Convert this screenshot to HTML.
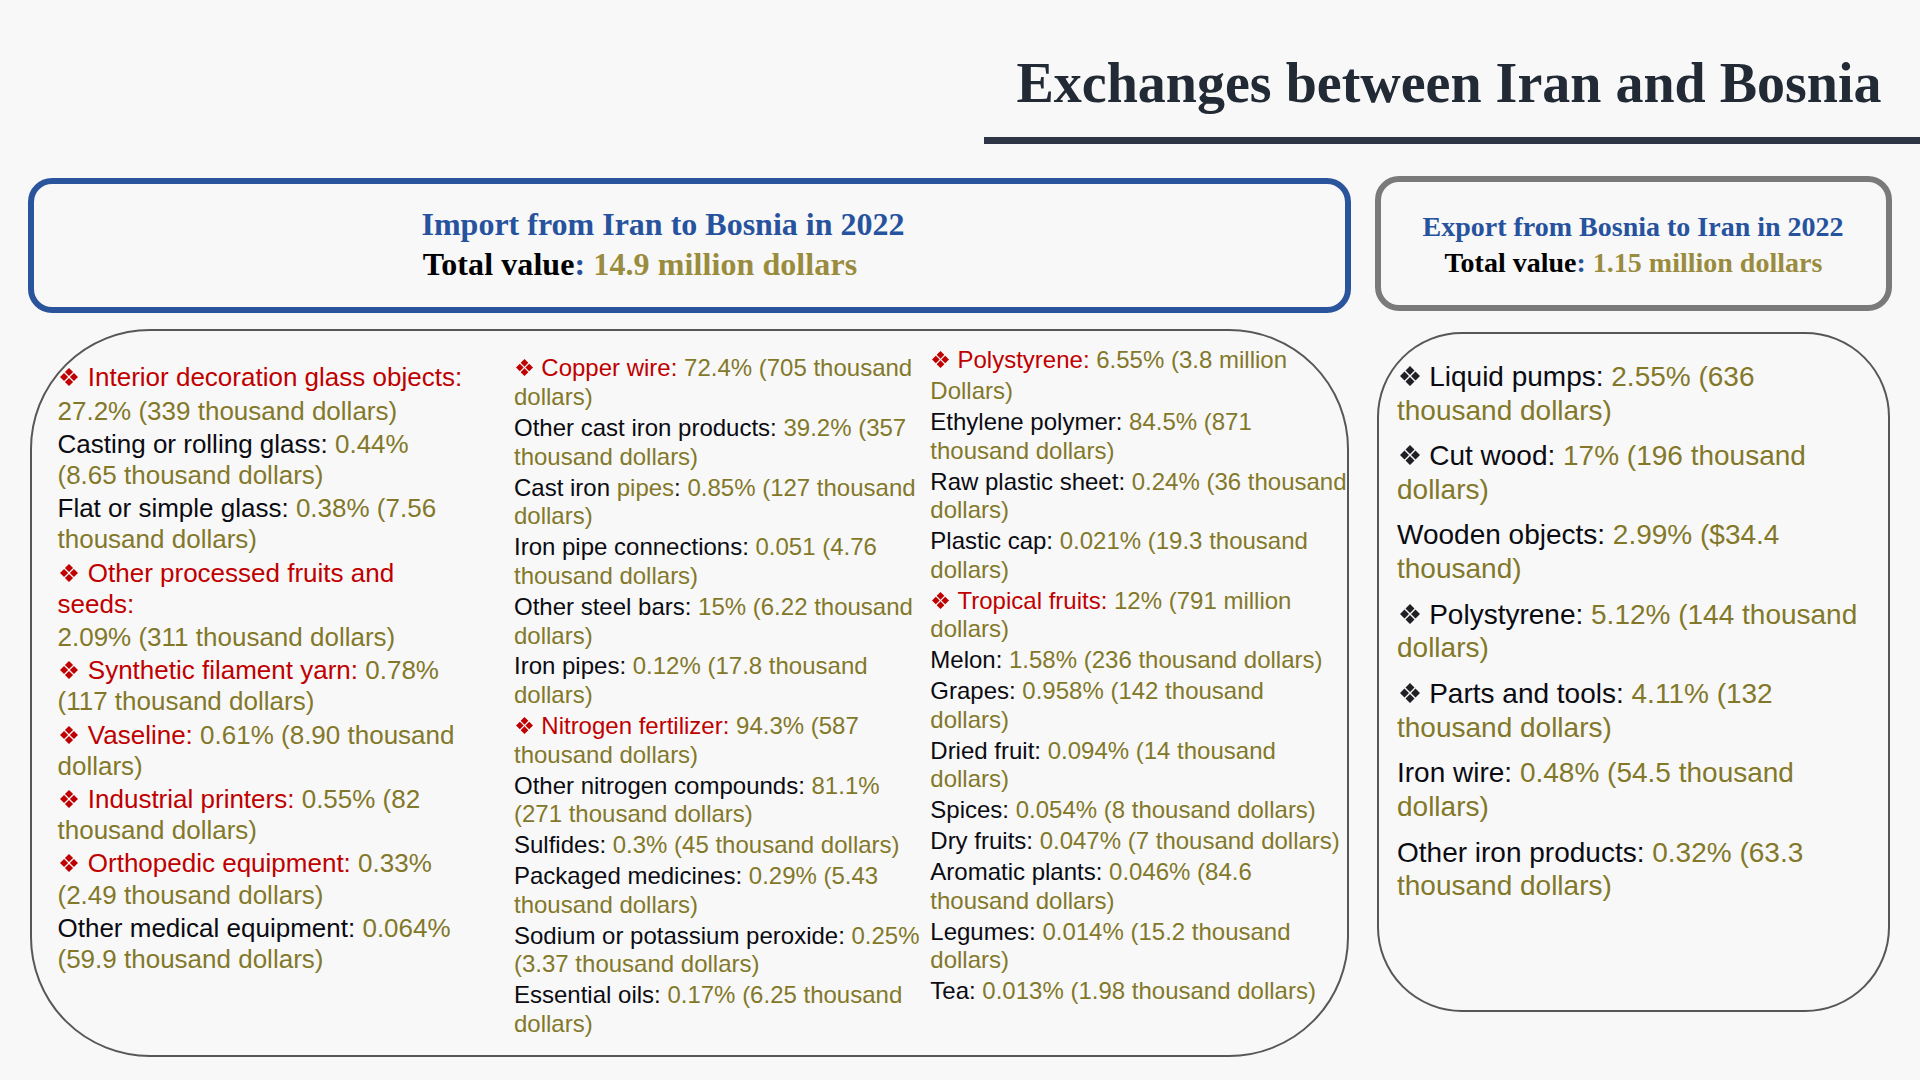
<!DOCTYPE html>
<html><head><meta charset="utf-8"><title>Exchanges between Iran and Bosnia</title>
<style>
html,body{margin:0;padding:0}
body{width:1920px;height:1080px;position:relative;overflow:hidden;background:#f8f8f8;font-family:"Liberation Sans", sans-serif}
.box{position:absolute;box-sizing:border-box}
.ln{position:absolute;white-space:pre;line-height:0;height:0;font-family:"Liberation Sans", sans-serif}
.f1{font-size:26px} .f2{font-size:24px} .f3{font-size:24px} .f4{font-size:28px}
.sl{position:absolute;white-space:pre;line-height:0;height:0;font-family:"Liberation Serif", serif;font-weight:bold}
.r{color:#c00000} .g{color:#83782a} .k{color:#0b0b12} .k0{color:#000} .b{color:#27539e} .gb{color:#9a8c3e}
</style></head>
<body>
<div class="sl" style="left:1016.5px;top:83px;font-size:56px;color:#222a35">Exchanges between Iran and Bosnia</div>
<div style="position:absolute;left:984px;top:137px;width:936px;height:7px;background:#2e3646"></div>
<div class="box" style="left:28px;top:178px;width:1323px;height:135px;border:6px solid #2a549b;border-radius:24px"></div>
<div class="box" style="left:1375px;top:176px;width:517px;height:135px;border:6px solid #7a7a7a;border-radius:24px"></div>
<div class="box" style="left:30px;top:329px;width:1319px;height:728px;border:2px solid #575757;border-radius:120px"></div>
<div class="box" style="left:1377px;top:332px;width:513px;height:680px;border:2px solid #575757;border-radius:85px"></div>
<div class="sl" style="left:421.5px;top:224px;font-size:32px;"><span class="b">Import from Iran to Bosnia in 2022</span></div>
<div class="sl" style="left:422.8px;top:264px;font-size:32px;letter-spacing:0.08px"><span class="k0">Total value</span><span class="b">: </span><span class="gb">14.9 million dollars</span></div>
<div class="sl" style="left:1422.5px;top:227px;font-size:28px;"><span class="b">Export from Bosnia to Iran in 2022</span></div>
<div class="sl" style="left:1444.5px;top:263px;font-size:28px;"><span class="k0">Total value</span><span class="b">: </span><span class="gb">1.15 million dollars</span></div>
<div style="position:absolute;left:60px;top:368px;width:18px;height:18px"><svg width="18" height="18" viewBox="0 0 18 18" style="position:absolute;display:block"><path fill="#c00000" d="M9 0L13.05 4.05L9 8.1L4.95 4.05ZM4.05 4.95L8.1 9L4.05 13.05L0 9ZM13.95 4.95L18 9L13.95 13.05L9.9 9ZM9 9.9L13.05 13.95L9 18L4.95 13.95Z"/></svg></div>
<div class="ln f1" style="left:87.8px;top:377px"><span class="r">Interior decoration glass objects:</span></div>
<div class="ln f1" style="left:57.5px;top:411px"><span class="g">27.2% (339 thousand dollars)</span></div>
<div class="ln f1" style="left:57.5px;top:444px"><span class="k">Casting or rolling glass: </span><span class="g">0.44%</span></div>
<div class="ln f1" style="left:57.5px;top:475px"><span class="g">(8.65 thousand dollars)</span></div>
<div class="ln f1" style="left:57.5px;top:508px"><span class="k">Flat or simple glass: </span><span class="g">0.38% (7.56</span></div>
<div class="ln f1" style="left:57.5px;top:539px"><span class="g">thousand dollars)</span></div>
<div style="position:absolute;left:60px;top:564px;width:18px;height:18px"><svg width="18" height="18" viewBox="0 0 18 18" style="position:absolute;display:block"><path fill="#c00000" d="M9 0L13.05 4.05L9 8.1L4.95 4.05ZM4.05 4.95L8.1 9L4.05 13.05L0 9ZM13.95 4.95L18 9L13.95 13.05L9.9 9ZM9 9.9L13.05 13.95L9 18L4.95 13.95Z"/></svg></div>
<div class="ln f1" style="left:87.8px;top:573px"><span class="r">Other processed fruits and</span></div>
<div class="ln f1" style="left:57.5px;top:604px"><span class="r">seeds:</span></div>
<div class="ln f1" style="left:57.5px;top:637px"><span class="g">2.09% (311 thousand dollars)</span></div>
<div style="position:absolute;left:60px;top:661px;width:18px;height:18px"><svg width="18" height="18" viewBox="0 0 18 18" style="position:absolute;display:block"><path fill="#c00000" d="M9 0L13.05 4.05L9 8.1L4.95 4.05ZM4.05 4.95L8.1 9L4.05 13.05L0 9ZM13.95 4.95L18 9L13.95 13.05L9.9 9ZM9 9.9L13.05 13.95L9 18L4.95 13.95Z"/></svg></div>
<div class="ln f1" style="left:87.8px;top:670px"><span class="r">Synthetic filament yarn: </span><span class="g">0.78%</span></div>
<div class="ln f1" style="left:57.5px;top:701px"><span class="g">(117 thousand dollars)</span></div>
<div style="position:absolute;left:60px;top:726px;width:18px;height:18px"><svg width="18" height="18" viewBox="0 0 18 18" style="position:absolute;display:block"><path fill="#c00000" d="M9 0L13.05 4.05L9 8.1L4.95 4.05ZM4.05 4.95L8.1 9L4.05 13.05L0 9ZM13.95 4.95L18 9L13.95 13.05L9.9 9ZM9 9.9L13.05 13.95L9 18L4.95 13.95Z"/></svg></div>
<div class="ln f1" style="left:87.8px;top:735px"><span class="r">Vaseline: </span><span class="g">0.61% (8.90 thousand</span></div>
<div class="ln f1" style="left:57.5px;top:766px"><span class="g">dollars)</span></div>
<div style="position:absolute;left:60px;top:790px;width:18px;height:18px"><svg width="18" height="18" viewBox="0 0 18 18" style="position:absolute;display:block"><path fill="#c00000" d="M9 0L13.05 4.05L9 8.1L4.95 4.05ZM4.05 4.95L8.1 9L4.05 13.05L0 9ZM13.95 4.95L18 9L13.95 13.05L9.9 9ZM9 9.9L13.05 13.95L9 18L4.95 13.95Z"/></svg></div>
<div class="ln f1" style="left:87.8px;top:799px"><span class="r">Industrial printers: </span><span class="g">0.55% (82</span></div>
<div class="ln f1" style="left:57.5px;top:830px"><span class="g">thousand dollars)</span></div>
<div style="position:absolute;left:60px;top:854px;width:18px;height:18px"><svg width="18" height="18" viewBox="0 0 18 18" style="position:absolute;display:block"><path fill="#c00000" d="M9 0L13.05 4.05L9 8.1L4.95 4.05ZM4.05 4.95L8.1 9L4.05 13.05L0 9ZM13.95 4.95L18 9L13.95 13.05L9.9 9ZM9 9.9L13.05 13.95L9 18L4.95 13.95Z"/></svg></div>
<div class="ln f1" style="left:87.8px;top:863px"><span class="r">Orthopedic equipment: </span><span class="g">0.33%</span></div>
<div class="ln f1" style="left:57.5px;top:895px"><span class="g">(2.49 thousand dollars)</span></div>
<div class="ln f1" style="left:57.5px;top:928px"><span class="k">Other medical equipment: </span><span class="g">0.064%</span></div>
<div class="ln f1" style="left:57.5px;top:959px"><span class="g">(59.9 thousand dollars)</span></div>
<div style="position:absolute;left:516px;top:359px;width:17px;height:17px"><svg width="17" height="17" viewBox="0 0 18 18" style="position:absolute;display:block"><path fill="#c00000" d="M9 0L13.05 4.05L9 8.1L4.95 4.05ZM4.05 4.95L8.1 9L4.05 13.05L0 9ZM13.95 4.95L18 9L13.95 13.05L9.9 9ZM9 9.9L13.05 13.95L9 18L4.95 13.95Z"/></svg></div>
<div class="ln f2" style="left:541.3px;top:368px"><span class="r">Copper wire: </span><span class="g">72.4% (705 thousand</span></div>
<div class="ln f2" style="left:514px;top:397px"><span class="g">dollars)</span></div>
<div class="ln f2" style="left:514px;top:428px"><span class="k">Other cast iron products: </span><span class="g">39.2% (357</span></div>
<div class="ln f2" style="left:514px;top:457px"><span class="g">thousand dollars)</span></div>
<div class="ln f2" style="left:514px;top:488px"><span class="k">Cast iron </span><span class="g">pipes</span><span class="k">: </span><span class="g">0.85% (127 thousand</span></div>
<div class="ln f2" style="left:514px;top:516px"><span class="g">dollars)</span></div>
<div class="ln f2" style="left:514px;top:547px"><span class="k">Iron pipe connections: </span><span class="g">0.051 (4.76</span></div>
<div class="ln f2" style="left:514px;top:576px"><span class="g">thousand dollars)</span></div>
<div class="ln f2" style="left:514px;top:607px"><span class="k">Other steel bars: </span><span class="g">15% (6.22 thousand</span></div>
<div class="ln f2" style="left:514px;top:636px"><span class="g">dollars)</span></div>
<div class="ln f2" style="left:514px;top:666px"><span class="k">Iron pipes: </span><span class="g">0.12% (17.8 thousand</span></div>
<div class="ln f2" style="left:514px;top:695px"><span class="g">dollars)</span></div>
<div style="position:absolute;left:516px;top:717px;width:17px;height:17px"><svg width="17" height="17" viewBox="0 0 18 18" style="position:absolute;display:block"><path fill="#c00000" d="M9 0L13.05 4.05L9 8.1L4.95 4.05ZM4.05 4.95L8.1 9L4.05 13.05L0 9ZM13.95 4.95L18 9L13.95 13.05L9.9 9ZM9 9.9L13.05 13.95L9 18L4.95 13.95Z"/></svg></div>
<div class="ln f2" style="left:541.3px;top:726px"><span class="r">Nitrogen fertilizer: </span><span class="g">94.3% (587</span></div>
<div class="ln f2" style="left:514px;top:755px"><span class="g">thousand dollars)</span></div>
<div class="ln f2" style="left:514px;top:786px"><span class="k">Other nitrogen compounds: </span><span class="g">81.1%</span></div>
<div class="ln f2" style="left:514px;top:814px"><span class="g">(271 thousand dollars)</span></div>
<div class="ln f2" style="left:514px;top:845px"><span class="k">Sulfides: </span><span class="g">0.3% (45 thousand dollars)</span></div>
<div class="ln f2" style="left:514px;top:876px"><span class="k">Packaged medicines: </span><span class="g">0.29% (5.43</span></div>
<div class="ln f2" style="left:514px;top:905px"><span class="g">thousand dollars)</span></div>
<div class="ln f2" style="left:514px;top:936px"><span class="k">Sodium or potassium peroxide: </span><span class="g">0.25%</span></div>
<div class="ln f2" style="left:514px;top:964px"><span class="g">(3.37 thousand dollars)</span></div>
<div class="ln f2" style="left:514px;top:995px"><span class="k">Essential oils: </span><span class="g">0.17% (6.25 thousand</span></div>
<div class="ln f2" style="left:514px;top:1024px"><span class="g">dollars)</span></div>
<div style="position:absolute;left:932px;top:351px;width:17px;height:17px"><svg width="17" height="17" viewBox="0 0 18 18" style="position:absolute;display:block"><path fill="#c00000" d="M9 0L13.05 4.05L9 8.1L4.95 4.05ZM4.05 4.95L8.1 9L4.05 13.05L0 9ZM13.95 4.95L18 9L13.95 13.05L9.9 9ZM9 9.9L13.05 13.95L9 18L4.95 13.95Z"/></svg></div>
<div class="ln f3" style="left:957.5px;top:360px"><span class="r">Polystyrene: </span><span class="g">6.55% (3.8 million</span></div>
<div class="ln f3" style="left:930.3px;top:391px"><span class="g">Dollars)</span></div>
<div class="ln f3" style="left:930.3px;top:422px"><span class="k">Ethylene polymer: </span><span class="g">84.5% (871</span></div>
<div class="ln f3" style="left:930.3px;top:451px"><span class="g">thousand dollars)</span></div>
<div class="ln f3" style="left:930.3px;top:482px"><span class="k">Raw plastic sheet: </span><span class="g">0.24% (36 thousand</span></div>
<div class="ln f3" style="left:930.3px;top:510px"><span class="g">dollars)</span></div>
<div class="ln f3" style="left:930.3px;top:541px"><span class="k">Plastic cap: </span><span class="g">0.021% (19.3 thousand</span></div>
<div class="ln f3" style="left:930.3px;top:570px"><span class="g">dollars)</span></div>
<div style="position:absolute;left:932px;top:592px;width:17px;height:17px"><svg width="17" height="17" viewBox="0 0 18 18" style="position:absolute;display:block"><path fill="#c00000" d="M9 0L13.05 4.05L9 8.1L4.95 4.05ZM4.05 4.95L8.1 9L4.05 13.05L0 9ZM13.95 4.95L18 9L13.95 13.05L9.9 9ZM9 9.9L13.05 13.95L9 18L4.95 13.95Z"/></svg></div>
<div class="ln f3" style="left:957.5px;top:601px"><span class="r">Tropical fruits: </span><span class="g">12% (791 million</span></div>
<div class="ln f3" style="left:930.3px;top:629px"><span class="g">dollars)</span></div>
<div class="ln f3" style="left:930.3px;top:660px"><span class="k">Melon: </span><span class="g">1.58% (236 thousand dollars)</span></div>
<div class="ln f3" style="left:930.3px;top:691px"><span class="k">Grapes: </span><span class="g">0.958% (142 thousand</span></div>
<div class="ln f3" style="left:930.3px;top:720px"><span class="g">dollars)</span></div>
<div class="ln f3" style="left:930.3px;top:751px"><span class="k">Dried fruit: </span><span class="g">0.094% (14 thousand</span></div>
<div class="ln f3" style="left:930.3px;top:779px"><span class="g">dollars)</span></div>
<div class="ln f3" style="left:930.3px;top:810px"><span class="k">Spices: </span><span class="g">0.054% (8 thousand dollars)</span></div>
<div class="ln f3" style="left:930.3px;top:841px"><span class="k">Dry fruits: </span><span class="g">0.047% (7 thousand dollars)</span></div>
<div class="ln f3" style="left:930.3px;top:872px"><span class="k">Aromatic plants: </span><span class="g">0.046% (84.6</span></div>
<div class="ln f3" style="left:930.3px;top:901px"><span class="g">thousand dollars)</span></div>
<div class="ln f3" style="left:930.3px;top:932px"><span class="k">Legumes: </span><span class="g">0.014% (15.2 thousand</span></div>
<div class="ln f3" style="left:930.3px;top:960px"><span class="g">dollars)</span></div>
<div class="ln f3" style="left:930.3px;top:991px"><span class="k">Tea: </span><span class="g">0.013% (1.98 thousand dollars)</span></div>
<div style="position:absolute;left:1399.5px;top:366px;width:20px;height:20px"><svg width="20" height="20" viewBox="0 0 18 18" style="position:absolute;display:block"><path fill="#1f1f24" d="M9 0L13.05 4.05L9 8.1L4.95 4.05ZM4.05 4.95L8.1 9L4.05 13.05L0 9ZM13.95 4.95L18 9L13.95 13.05L9.9 9ZM9 9.9L13.05 13.95L9 18L4.95 13.95Z"/></svg></div>
<div class="ln f4" style="left:1429.2px;top:377px"><span class="k">Liquid pumps: </span><span class="g">2.55% (636</span></div>
<div class="ln f4" style="left:1397px;top:411px"><span class="g">thousand dollars)</span></div>
<div style="position:absolute;left:1399.5px;top:445px;width:20px;height:20px"><svg width="20" height="20" viewBox="0 0 18 18" style="position:absolute;display:block"><path fill="#1f1f24" d="M9 0L13.05 4.05L9 8.1L4.95 4.05ZM4.05 4.95L8.1 9L4.05 13.05L0 9ZM13.95 4.95L18 9L13.95 13.05L9.9 9ZM9 9.9L13.05 13.95L9 18L4.95 13.95Z"/></svg></div>
<div class="ln f4" style="left:1429.2px;top:456px"><span class="k">Cut wood: </span><span class="g">17% (196 thousand</span></div>
<div class="ln f4" style="left:1397px;top:490px"><span class="g">dollars)</span></div>
<div class="ln f4" style="left:1397px;top:535px"><span class="k">Wooden objects: </span><span class="g">2.99% ($34.4</span></div>
<div class="ln f4" style="left:1397px;top:569px"><span class="g">thousand)</span></div>
<div style="position:absolute;left:1399.5px;top:604px;width:20px;height:20px"><svg width="20" height="20" viewBox="0 0 18 18" style="position:absolute;display:block"><path fill="#1f1f24" d="M9 0L13.05 4.05L9 8.1L4.95 4.05ZM4.05 4.95L8.1 9L4.05 13.05L0 9ZM13.95 4.95L18 9L13.95 13.05L9.9 9ZM9 9.9L13.05 13.95L9 18L4.95 13.95Z"/></svg></div>
<div class="ln f4" style="left:1429.2px;top:615px"><span class="k">Polystyrene: </span><span class="g">5.12% (144 thousand</span></div>
<div class="ln f4" style="left:1397px;top:648px"><span class="g">dollars)</span></div>
<div style="position:absolute;left:1399.5px;top:683px;width:20px;height:20px"><svg width="20" height="20" viewBox="0 0 18 18" style="position:absolute;display:block"><path fill="#1f1f24" d="M9 0L13.05 4.05L9 8.1L4.95 4.05ZM4.05 4.95L8.1 9L4.05 13.05L0 9ZM13.95 4.95L18 9L13.95 13.05L9.9 9ZM9 9.9L13.05 13.95L9 18L4.95 13.95Z"/></svg></div>
<div class="ln f4" style="left:1429.2px;top:694px"><span class="k">Parts and tools: </span><span class="g">4.11% (132</span></div>
<div class="ln f4" style="left:1397px;top:728px"><span class="g">thousand dollars)</span></div>
<div class="ln f4" style="left:1397px;top:773px"><span class="k">Iron wire: </span><span class="g">0.48% (54.5 thousand</span></div>
<div class="ln f4" style="left:1397px;top:807px"><span class="g">dollars)</span></div>
<div class="ln f4" style="left:1397px;top:853px"><span class="k">Other iron products: </span><span class="g">0.32% (63.3</span></div>
<div class="ln f4" style="left:1397px;top:886px"><span class="g">thousand dollars)</span></div>
</body></html>
